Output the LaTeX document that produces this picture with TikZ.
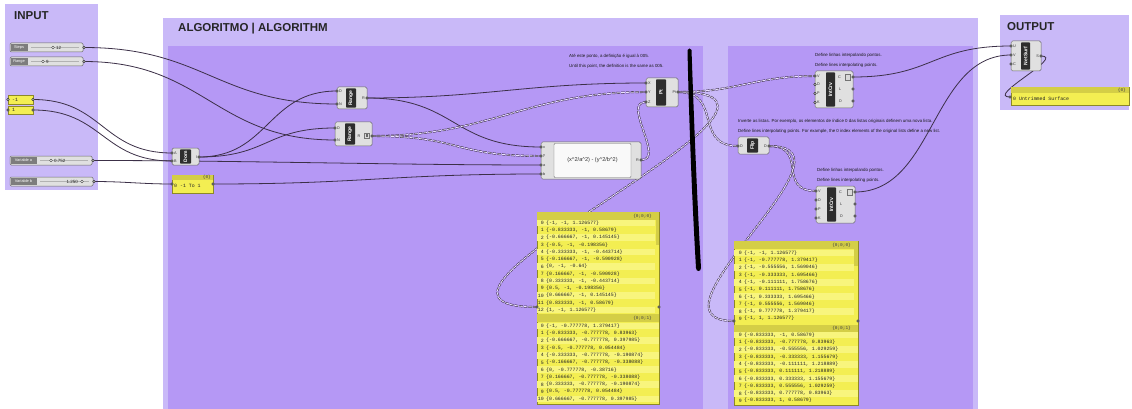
\documentclass[tikz,border=0pt]{standalone}
\usepackage{fontspec}
\setmainfont{Liberation Sans}
\newfontfamily\monof{Liberation Mono}
\definecolor{grpout}{RGB}{201,185,248}
\definecolor{grpin}{RGB}{181,152,245}
\definecolor{wirec}{RGB}{60,48,72}
\definecolor{compf}{RGB}{224,224,224}
\definecolor{compd}{RGB}{105,105,105}
\definecolor{stripc}{RGB}{45,45,45}
\definecolor{pyel}{RGB}{243,238,82}
\definecolor{pyel2}{RGB}{248,245,125}
\definecolor{phead}{RGB}{212,206,70}
\definecolor{pbord}{RGB}{140,136,40}
\definecolor{sllabc}{RGB}{125,125,125}
\tikzset{
 title/.style={font=\fontsize{11.5}{13}\selectfont\bfseries, text=black!85, anchor=west, inner sep=0pt},
 note/.style={font=\fontsize{4.4}{5}\selectfont, text=black!90, anchor=west, inner sep=0pt},
 wire/.style={draw=wirec, line width=0.8pt},
 twire/.style={draw=wirec, line width=0.55pt, double=white!70!grpin, double distance=0.85pt, dash pattern=on 3.6pt off 1.1pt},
 gbox/.style={fill=compf, draw=compd, line width=0.5pt, rounded corners=1.6pt},
 gstrip/.style={fill=stripc, rounded corners=0.8pt},
 glabel/.style={font=\fontsize{5}{5}\selectfont\bfseries, text=white, inner sep=0pt},
 pinl/.style={font=\fontsize{3.8}{4}\selectfont, text=black!80, inner sep=0pt, anchor=west},
 pinr/.style={font=\fontsize{3.8}{4}\selectfont, text=black!80, inner sep=0pt, anchor=east},
 gripst/.style={fill=white, draw=black!85, line width=0.45pt},
 pnl/.style={fill=pyel, draw=pbord, line width=0.5pt},
 ptxt/.style={font=\monof\fontsize{4.9}{5}\selectfont, text=black!85, inner sep=0pt},
 phtxt/.style={font=\monof\fontsize{4.4}{5}\selectfont, text=black!75, inner sep=0pt, anchor=east},
 slbody/.style={fill=compf, draw=compd, line width=0.5pt, rounded corners=1.2pt},
 sltxt/.style={font=\fontsize{3.9}{4}\selectfont, text=white, inner sep=0pt},
 slval/.style={font=\fontsize{4.5}{5}\selectfont, text=black!85, inner sep=0pt, anchor=west},
 icon/.style={fill=black!15, draw=black!55, line width=0.35pt},
}
\newcommand\wire[4][wire]{\draw[#1] (#2) .. controls +(#4,0) and +(-#4,0) .. (#3);}
\newcommand\ghcomp[8]{%
 \draw[gbox] (#2,#3) rectangle (#4,#5);
 \fill[gstrip] (#6,#3+1.3) rectangle (#7,#5-1.3);
 \node[glabel,rotate=90] (#1) at ({(#6+#7)/2},{(#3+#5)/2}) {#8};
}
% #1 name #2 y1 #3 y2 #4 x2 #5 label end #6 label #7 value #8 knob x #9 value x
\newcommand\ghslider[9]{%
 \draw[slbody] (10,#2) rectangle (#4,#3);
 \fill[sllabc] (10.6,#2+0.6) rectangle (#5,#3-0.6);
 \node[sltxt] (#1-lab) at ({(10+#5)/2},{(#2+#3)/2}) {#6};
 \draw[black!30, line width=0.3pt] (#5+3,{(#2+#3)/2}) -- (#4-4,{(#2+#3)/2});
 \draw[fill=white, draw=black!80, line width=0.4pt] (#8,{(#2+#3)/2}) circle (1.4pt);
 \node[slval] (#1-val) at (#9,{(#2+#3)/2}) {#7};
}
% #1 prefix #2 x0 #3 y0 #4 dy #5 list
\newcommand\panelrows[5]{%
 \foreach \t [count=\c from 0] in {#5} {%
  \node[ptxt,anchor=east] (#1i\c) at (#2+7,{#3+#4*\c}) {\c};
  \node[ptxt,anchor=west] (#1r\c) at (#2+9,{#3+#4*\c}) {\t};
 }%
}
\begin{document}
\begin{tikzpicture}[x=1pt,y=-1pt]
\useasboundingbox (0,0) rectangle (1132,409);
\fill[white] (0,0) rectangle (1132,409);
% groups
\fill[grpout] (5,4) rectangle (98,190);
\fill[grpout] (163,18) rectangle (978,409);
\fill[grpin] (168,46) rectangle (703,409);
\fill[grpin] (728,46) rectangle (973,409);
\fill[grpout] (1000,15) rectangle (1129,110);
\node[title] (ttl-in) at (14,16) {INPUT};
\node[title] (ttl-alg) at (178,29) {ALGORITMO | ALGORITHM};
\node[title] (ttl-out) at (1007,27) {OUTPUT};
% notes
\node[note] (n1) at (569,56) {Até este ponto, a definição é igual à 005.};
\node[note] (n2) at (569,66) {Until this point, the definition is the same as 005.};
\node[note] (n3) at (815,55) {Define linhas interpolando pontos.};
\node[note] (n4) at (815,65) {Define lines interpolating points.};
\node[note] (n5) at (738,121) {Inverte as listas. Por exemplo, os elementos de índice 0 das listas originais definem uma nova lista.};
\node[note] (n6) at (738,131) {Define lines interpolating points. For example, the 0 index elements of the original lists define a new list.};
\node[note] (n7) at (817,170) {Define linhas interpolando pontos.};
\node[note] (n8) at (817,180) {Define lines interpolating points.};
% grips / coordinates
\coordinate (sl-steps-o) at (84,47.5);
\coordinate (sl-range-o) at (84,61.5);
\coordinate (pa-o) at (33,99.5);
\coordinate (pa-i) at (8,99.5);
\coordinate (pb-o) at (33,110);
\coordinate (pb-i) at (8,110);
\coordinate (sl-va-o) at (93,160.5);
\coordinate (sl-vb-o) at (94,181.5);
\coordinate (dom-a) at (172,153);
\coordinate (dom-b) at (172,161);
\coordinate (dom-o) at (199,157);
\coordinate (dp-i) at (172,184);
\coordinate (dp-o) at (213,184);
\coordinate (rg1-d) at (337,91);
\coordinate (rg1-n) at (337,104);
\coordinate (rg1-o) at (367,98);
\coordinate (rg2-d) at (335,128);
\coordinate (rg2-n) at (335,140);
\coordinate (rg2-o) at (372,136);
\coordinate (ex-x) at (541,147);
\coordinate (ex-y) at (541,156);
\coordinate (ex-a) at (541,165);
\coordinate (ex-b) at (541,174);
\coordinate (ex-o) at (641,160);
\coordinate (pt-x) at (646,83);
\coordinate (pt-y) at (646,92);
\coordinate (pt-z) at (646,102);
\coordinate (pt-o) at (678,92);
\coordinate (lp-i) at (537,307);
\coordinate (lp-o) at (659,307);
\coordinate (ic1-v) at (815,76);
\coordinate (ic1-d) at (815,84.5);
\coordinate (ic1-p) at (815,93.5);
\coordinate (ic1-k) at (815,102.5);
\coordinate (ic1-c) at (853,77);
\coordinate (ic1-l) at (853,89);
\coordinate (ic1-e) at (853,101);
\coordinate (fl-i) at (738,146);
\coordinate (fl-o) at (769,146);
\coordinate (ic2-v) at (816,191);
\coordinate (ic2-d) at (816,200);
\coordinate (ic2-p) at (816,209);
\coordinate (ic2-k) at (816,218);
\coordinate (ic2-c) at (855,192);
\coordinate (ic2-l) at (855,204);
\coordinate (ic2-e) at (855,216);
\coordinate (rp-i) at (734,321);
\coordinate (rp-o) at (858,321);
\coordinate (ns-u) at (1011,46);
\coordinate (ns-v) at (1011,55);
\coordinate (ns-c) at (1011,64);
\coordinate (ns-o) at (1041,56);
\coordinate (op-i) at (1010,97);
% wires
\wire{sl-steps-o}{rg1-n}{120}
\wire{sl-range-o}{rg2-n}{120}
\wire{pa-o}{dom-a}{70}
\wire{pb-o}{dom-b}{70}
\wire{sl-va-o}{ex-a}{150}
\wire{sl-vb-o}{dp-i}{30}
\wire{dp-o}{ex-b}{150}
\wire{dom-o}{rg1-d}{70}
\wire{dom-o}{rg2-d}{70}
\wire{rg1-o}{pt-x}{120}
\wire{rg1-o}{ex-x}{90}
\wire[twire]{rg2-o}{pt-y}{120}
\wire[twire]{rg2-o}{ex-y}{90}
\wire[twire]{ex-o}{pt-z}{25}
\wire[twire]{pt-o}{ic1-v}{60}
\wire[twire]{pt-o}{fl-i}{45}
\wire[twire]{pt-o}{lp-i}{180}
\wire[twire]{fl-o}{ic2-v}{40}
\wire[twire]{fl-o}{rp-i}{100}
\wire{ic1-c}{ns-u}{80}
\wire{ic2-c}{ns-v}{80}
\wire{ns-o}{op-i}{25}
% sketch stroke
\fill[black] (687.5,50) .. controls (688,48) and (691,48) .. (691.5,50) .. controls (694,120) and (697,200) .. (701,268) .. controls (701,272) and (696,272) .. (696,268) .. controls (692,200) and (689,120) .. (687.5,50) -- cycle;
% sliders
\ghslider{sls}{43}{52}{83}{28}{Steps}{12}{53}{56}
\ghslider{slr}{57}{66}{83}{28}{Range}{9}{43}{46}
\ghslider{sla}{156}{165}{92}{37}{Variable a}{0.752}{51}{54}
\ghslider{slb}{177}{186}{93}{37}{Variable b}{1.250}{82}{66.5}
% components
\ghcomp{dom}{172}{148}{199}{165}{180}{191}{Dom}
\node[pinl] (dom-la) at (174,153) {A};
\node[pinl] (dom-lb) at (174,161) {B};
\node[pinr] (dom-li) at (197.5,157) {I};
\ghcomp{rg1}{337}{87}{367}{109}{346}{356}{Range}
\node[pinl] (rg1-ld) at (339,91) {D};
\node[pinl] (rg1-ln) at (339,104) {N};
\node[pinr] (rg1-lr) at (365,98) {R};
\ghcomp{rg2}{335}{122}{372}{146}{345}{355}{Range}
\node[pinl] (rg2-ld) at (337,128) {D};
\node[pinl] (rg2-ln) at (337,140) {N};
\node[pinl] (rg2-lr) at (357.5,136) {R};
\draw[icon] (364,133) rectangle (369.5,138.5);
\fill[black!60] (365.5,134.5) rectangle (368,137);
\ghcomp{pt}{646}{78}{678}{107}{656}{666}{Pt}
\node[pinl] (pt-lx) at (648,83) {X};
\node[pinl] (pt-ly) at (648,92) {Y};
\node[pinl] (pt-lz) at (648,102) {Z};
\node[pinr] (pt-lo) at (676.5,92) {Pt};
\draw[gbox] (541,142) rectangle (641,179);
\draw[fill=white!95!gray, draw=compd, line width=0.4pt, rounded corners=1pt] (554,143.5) rectangle (631,177.5);
\node[font=\fontsize{5.6}{6}\selectfont, inner sep=0pt, text=black!80] (ex) at (592.5,160.5) {(x\textasciicircum2/a\textasciicircum2) - (y\textasciicircum2/b\textasciicircum2)};
\node[pinl] (ex-lx) at (543,147) {x};
\node[pinl] (ex-ly) at (543,156) {y};
\node[pinl] (ex-la) at (543,165) {a};
\node[pinl] (ex-lb) at (543,174) {b};
\node[pinr] (ex-lr) at (639,160) {R};
\ghcomp{ic1}{815}{71}{853}{108}{826}{835}{IntCrv}
\node[pinl] (ic1-lv) at (817,76) {V};
\node[pinl] (ic1-ld) at (817,84.5) {D};
\node[pinl] (ic1-lp) at (817,93.5) {P};
\node[pinl] (ic1-lk) at (817,102.5) {K};
\node[pinl] (ic1-lc) at (838,77) {C};
\draw[icon] (845,74) rectangle (850.5,80);
\node[pinl] (ic1-ll) at (839,89) {L};
\node[pinl] (ic1-le) at (839,101) {D};
\ghcomp{fl}{738}{137}{769}{154}{747}{758}{Flip}
\node[pinl] (fl-li) at (740,146) {D};
\node[pinr] (fl-lo) at (767,146) {D};
\ghcomp{ic2}{816}{186}{855}{223}{827}{836}{IntCrv}
\node[pinl] (ic2-lv) at (818,191) {V};
\node[pinl] (ic2-ld) at (818,200) {D};
\node[pinl] (ic2-lp) at (818,209) {P};
\node[pinl] (ic2-lk) at (818,218) {K};
\node[pinl] (ic2-lc) at (839,192) {C};
\draw[icon] (847,189) rectangle (852.5,195);
\node[pinl] (ic2-ll) at (840,204) {L};
\node[pinl] (ic2-le) at (840,216) {D};
\ghcomp{ns}{1011}{41}{1041}{71}{1021}{1030}{NetSurf}
\node[pinl] (ns-lu) at (1013,46) {U};
\node[pinl] (ns-lv) at (1013,55) {V};
\node[pinl] (ns-lc) at (1013,64) {C};
\node[pinr] (ns-ls) at (1039,56) {S};
% small panels
\draw[pnl] (8,95) rectangle (33,104);
\node[ptxt, anchor=west] (pa) at (12,99.5) {-1};
\draw[pnl] (8,106) rectangle (33,114);
\node[ptxt, anchor=west] (pb) at (12,110) {1};
\draw[pnl] (172,175) rectangle (213,193);
\fill[phead] (172.3,175.3) rectangle (212.7,180);
\node[phtxt] (dp-h) at (211,177.7) {\{0\}};
\node[ptxt, anchor=west] (dp) at (174,186) {0 -1 To 1};
\draw[pnl] (1011,87) rectangle (1129,105);
\fill[phead] (1011.3,87.3) rectangle (1128.7,93);
\node[phtxt] (op-h) at (1126,90.2) {\{0\}};
\node[ptxt, anchor=west] (op) at (1013,99) {0 Untrimmed Surface};
% left big panel
\draw[pnl] (537,212) rectangle (659,404);
\fill[phead] (537.3,212.3) rectangle (658.7,220);
\node[phtxt] (lp-h1) at (652,216.2) {\{0;0;0\}};
\foreach \i in {0,2,...,12} \fill[pyel2] (537.3,{223+7.25*\i-3.4}) rectangle (655,{223+7.25*\i+3.4});
\fill[phead] (655.5,220) rectangle (658.7,245);
\panelrows{lpa}{537}{223}{7.25}{{\{-1, -1, 1.126577\}},{\{-0.833333, -1, 0.58679\}},{\{-0.666667, -1, 0.145145\}},{\{-0.5, -1, -0.198356\}},{\{-0.333333, -1, -0.443714\}},{\{-0.166667, -1, -0.590928\}},{\{0, -1, -0.64\}},{\{0.166667, -1, -0.590928\}},{\{0.333333, -1, -0.443714\}},{\{0.5, -1, -0.198356\}},{\{0.666667, -1, 0.145145\}},{\{0.833333, -1, 0.58679\}},{\{1, -1, 1.126577\}}}
\fill[phead] (537.3,314) rectangle (658.7,322);
\node[phtxt] (lp-h2) at (652,318.2) {\{0;0;1\}};
\foreach \i in {0,2,...,10} \fill[pyel2] (537.3,{326+7.3*\i-3.4}) rectangle (658.7,{326+7.3*\i+3.4});
\panelrows{lpb}{537}{326}{7.3}{{\{-1, -0.777778, 1.379417\}},{\{-0.833333, -0.777778, 0.83963\}},{\{-0.666667, -0.777778, 0.397985\}},{\{-0.5, -0.777778, 0.054484\}},{\{-0.333333, -0.777778, -0.190874\}},{\{-0.166667, -0.777778, -0.338088\}},{\{0, -0.777778, -0.38716\}},{\{0.166667, -0.777778, -0.338088\}},{\{0.333333, -0.777778, -0.190874\}},{\{0.5, -0.777778, 0.054484\}},{\{0.666667, -0.777778, 0.397985\}}}
% right big panel
\draw[pnl] (734,241) rectangle (858,405);
\fill[phead] (734.3,241.3) rectangle (857.7,249);
\node[phtxt] (rp-h1) at (851,245.2) {\{0;0;0\}};
\foreach \i in {0,2,...,8} \fill[pyel2] (734.3,{253+7.3*\i-3.4}) rectangle (853.5,{253+7.3*\i+3.4});
\fill[phead] (854,249) rectangle (857.7,266);
\panelrows{rpa}{735}{253}{7.3}{{\{-1, -1, 1.126577\}},{\{-1, -0.777778, 1.379417\}},{\{-1, -0.555556, 1.569046\}},{\{-1, -0.333333, 1.695466\}},{\{-1, -0.111111, 1.758676\}},{\{-1, 0.111111, 1.758676\}},{\{-1, 0.333333, 1.695466\}},{\{-1, 0.555556, 1.569046\}},{\{-1, 0.777778, 1.379417\}},{\{-1, 1, 1.126577\}}}
\fill[phead] (734.3,325) rectangle (857.7,332);
\node[phtxt] (rp-h2) at (851,328.7) {\{0;0;1\}};
\foreach \i in {0,2,...,8} \fill[pyel2] (734.3,{335+7.3*\i-3.4}) rectangle (857.7,{335+7.3*\i+3.4});
\panelrows{rpb}{735}{335}{7.3}{{\{-0.833333, -1, 0.58679\}},{\{-0.833333, -0.777778, 0.83963\}},{\{-0.833333, -0.555556, 1.029259\}},{\{-0.833333, -0.333333, 1.155679\}},{\{-0.833333, -0.111111, 1.218889\}},{\{-0.833333, 0.111111, 1.218889\}},{\{-0.833333, 0.333333, 1.155679\}},{\{-0.833333, 0.555556, 1.029259\}},{\{-0.833333, 0.777778, 0.83963\}},{\{-0.833333, 1, 0.58679\}}}
% grips
\foreach \g in {sl-steps-o, sl-range-o, pa-o, pa-i, pb-o, pb-i, sl-va-o, sl-vb-o, dom-a, dom-b, dom-o, dp-i, dp-o, rg1-d, rg1-n, rg1-o, rg2-d, rg2-n, rg2-o, ex-x, ex-y, ex-a, ex-b, ex-o, pt-x, pt-y, pt-z, pt-o, lp-i, lp-o, ic1-v, ic1-d, ic1-p, ic1-k, ic1-c, ic1-l, ic1-e, fl-i, fl-o, ic2-v, ic2-d, ic2-p, ic2-k, ic2-c, ic2-l, ic2-e, rp-i, rp-o, ns-u, ns-v, ns-c, ns-o, op-i}
  \draw[gripst] (\g) circle (1.3pt);
\end{tikzpicture}
\end{document}
